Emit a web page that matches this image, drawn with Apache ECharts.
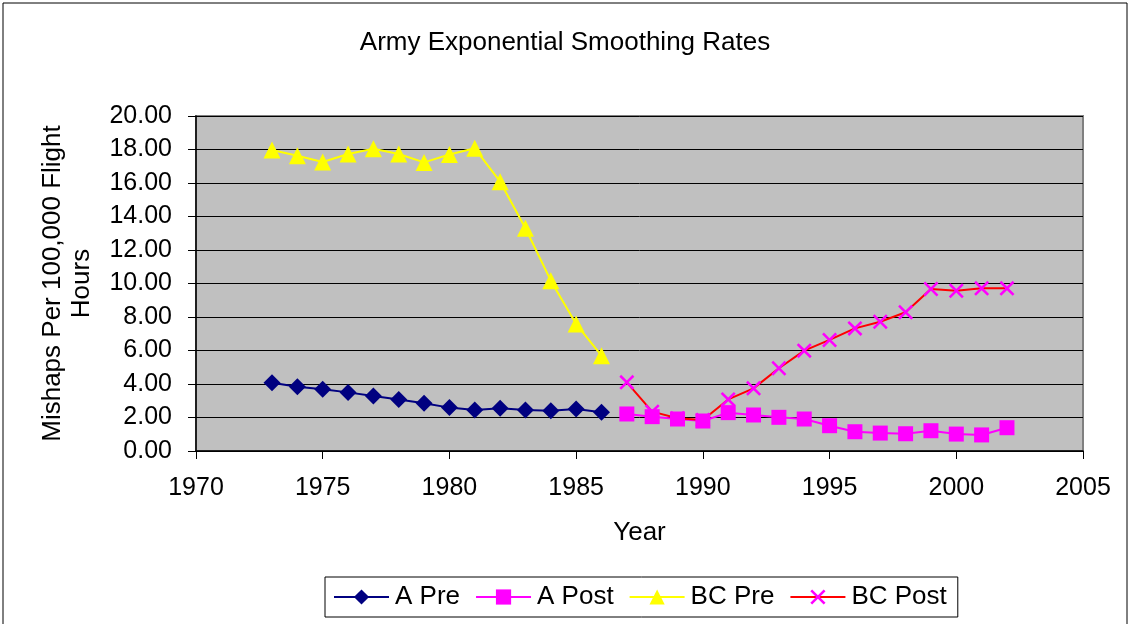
<!DOCTYPE html>
<html>
<head>
<meta charset="utf-8">
<script src="https://cdn.jsdelivr.net/npm/echarts@6/dist/echarts.min.js"></script>
<style>
  html, body { margin: 0; padding: 0; background: #fff; }
  #main { width: 1130px; height: 624px; }
</style>
</head>
<body>
<div id="main"></div>
<script>
// years for each group
const preYears = [1973, 1974, 1975, 1976, 1977, 1978, 1979, 1980, 1981, 1982, 1983, 1984, 1985, 1986];
const postYears = [1987, 1988, 1989, 1990, 1991, 1992, 1993, 1994, 1995, 1996, 1997, 1998, 1999, 2000, 2001, 2002];

const aPre = [4.08, 3.84, 3.68, 3.50, 3.28, 3.08, 2.85, 2.59, 2.45, 2.55, 2.45, 2.41, 2.51, 2.31];
const aPost = [2.21, 2.05, 1.91, 1.79, 2.29, 2.15, 2.01, 1.91, 1.51, 1.15, 1.07, 1.03, 1.21, 1.01, 0.96, 1.39];
const bcPre = [17.97, 17.63, 17.25, 17.73, 18.05, 17.73, 17.23, 17.70, 18.07, 16.08, 13.30, 10.17, 7.58, 5.69];
const bcPost = [4.10, 2.35, 1.95, 1.85, 3.08, 3.74, 4.94, 5.99, 6.63, 7.32, 7.72, 8.28, 9.67, 9.57, 9.71, 9.71];

const seriesNames = ["A Pre", "A Post", "BC Pre", "BC Post"];

const pairs = (xs, ys) => xs.map((x, i) => [x, ys[i]]);

const font = "Liberation Sans, Arial, sans-serif";
const xMark = "path://M0,1.2L1.2,0L5,3.8L8.8,0L10,1.2L6.2,5L10,8.8L8.8,10L5,6.2L1.2,10L0,8.8L3.8,5Z";

let myChart = echarts.init(document.getElementById("main"));
let option = {
  backgroundColor: "#fff",
  animation: false,
  textStyle: { fontFamily: font, color: "#000" },
  title: {
    text: "Army Exponential Smoothing Rates",
    left: "center",
    top: 25,
    textStyle: { fontSize: 26, fontWeight: "normal", color: "#000", fontFamily: font },
  },
  graphic: [
    {
      type: "rect",
      shape: { x: 3, y: 3, width: 1124, height: 640 },
      style: { fill: "none", stroke: "#000", lineWidth: 1 },
      silent: true,
    },
  ],
  legend: {
    data: seriesNames,
    left: 325,
    top: 577,
    padding: [7, 11, 7, 8],
    itemGap: 15,
    itemWidth: 55,
    itemHeight: 19,
    borderColor: "#000",
    borderWidth: 1,
    backgroundColor: "#fff",
    textStyle: { fontSize: 26, color: "#000", fontFamily: font, padding: [0, 0, 0, 1] },
  },
  grid: {
    left: 196,
    right: 47,
    top: 116,
    bottom: 173,
    show: true,
    backgroundColor: "#C0C0C0",
    borderColor: "#808080",
    borderWidth: 2,
  },
  xAxis: {
    type: "value",
    min: 1970,
    max: 2005,
    interval: 5,
    name: "Year",
    nameLocation: "middle",
    nameGap: 69,
    nameTextStyle: { fontSize: 26, color: "#000", fontFamily: font },
    axisLine: { lineStyle: { color: "#000", width: 1.5 } },
    axisTick: { show: true, length: 8, lineStyle: { color: "#000" } },
    axisLabel: {
      fontSize: 25,
      color: "#000",
      margin: 25,
      fontFamily: font,
      formatter: (v) => String(v),
    },
    splitLine: { show: false },
  },
  yAxis: {
    type: "value",
    min: 0,
    max: 20,
    interval: 2,
    name: "Mishaps Per 100,000 Flight\nHours",
    nameLocation: "middle",
    nameGap: 100,
    nameRotate: 90,
    nameTextStyle: { fontSize: 26, color: "#000", fontFamily: font, lineHeight: 29 },
    axisLine: { show: true, lineStyle: { color: "#000", width: 1.5 } },
    axisTick: { show: true, length: 8, lineStyle: { color: "#000" } },
    axisLabel: {
      fontSize: 25,
      color: "#000",
      margin: 24,
      fontFamily: font,
      formatter: (v) => v.toFixed(2),
    },
    splitLine: { show: true, lineStyle: { color: "#000", width: 1 } },
  },
  series: [
    {
      name: seriesNames[0],
      type: "line",
      data: pairs(preYears, aPre),
      symbol: "diamond",
      symbolSize: 17,
      itemStyle: { color: "#000080" },
      lineStyle: { color: "#000080", width: 2 },
    },
    {
      name: seriesNames[1],
      type: "line",
      data: pairs(postYears, aPost),
      symbol: "rect",
      symbolSize: 15,
      itemStyle: { color: "#FF00FF" },
      lineStyle: { color: "#FF00FF", width: 2 },
    },
    {
      name: seriesNames[2],
      type: "line",
      data: pairs(preYears, bcPre),
      symbol: "triangle",
      symbolSize: 17,
      itemStyle: { color: "#FFFF00" },
      lineStyle: { color: "#FFFF00", width: 2 },
    },
    {
      name: seriesNames[3],
      type: "line",
      data: pairs(postYears, bcPost),
      symbol: xMark,
      symbolSize: 15,
      itemStyle: { color: "#FF00FF" },
      lineStyle: { color: "#FF0000", width: 2 },
    },
  ],
};
myChart.setOption(option);
</script>
</body>
</html>
